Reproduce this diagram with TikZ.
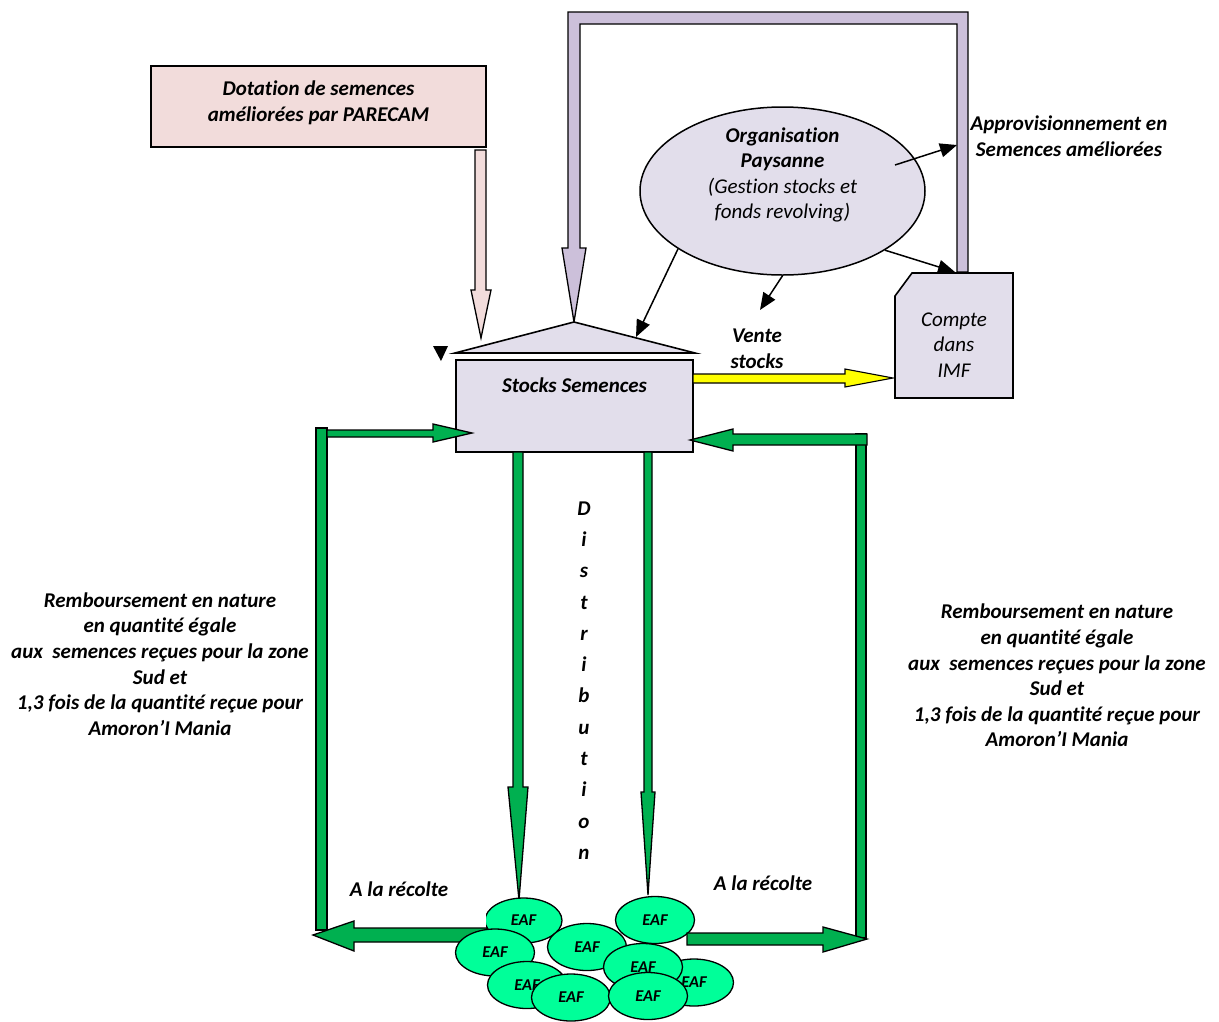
\documentclass[tikz,border=0pt]{standalone}
\usepackage{fontspec}
\setmainfont{Carlito}[Ligatures=CommonOff]
\usetikzlibrary{arrows.meta,shapes.geometric}
\definecolor{pinkbox}{HTML}{F2DCDB}
\definecolor{lavbox}{HTML}{E2DEEB}
\definecolor{purplearrow}{HTML}{CCC0DA}
\definecolor{greenarrow}{HTML}{00B050}
\definecolor{eafgreen}{HTML}{00FF99}
\definecolor{yellowarrow}{HTML}{FFFF00}

\begin{document}
\begin{tikzpicture}[x=1pt,y=-1pt,
  txt/.style={font=\fontsize{21}{25.6}\selectfont\bfseries\itshape, align=center, inner sep=0pt},
  txtit/.style={font=\fontsize{21}{25.6}\selectfont\itshape, align=center, inner sep=0pt},
  box/.style={draw=black, line width=1.6pt, rectangle, inner sep=0pt},
  blockarrow/.style={draw=black, line width=1.3pt, line join=miter},
  thinarrow/.style={draw=black, line width=1.5pt, -{Triangle[length=17pt,width=14pt]}},
  eaf/.style={ellipse, draw=black, line width=1.3pt, fill=eafgreen, inner sep=0pt,
              minimum width=79, minimum height=47,
              font=\fontsize{16.5}{19}\selectfont\bfseries\itshape},
]
\useasboundingbox (0,0) rectangle (1219,1021);

% ---- donor box and its arrow
\node[box, fill=pinkbox, minimum width=335, minimum height=81] (dot) at (318.5,106.5) {};
\node[txt] (dottxt) at (318.5,103) {Dotation de semences\\améliorées par PARECAM};
\draw[blockarrow, fill=pinkbox] (475,150) -- (486,150) -- (486,290) -- (491,290)
  -- (481,338) -- (471,290) -- (475,290) -- cycle;

% ---- supply loop (inverted U)
\draw[blockarrow, fill=purplearrow] (568,248) -- (568,12) -- (968,12) -- (968,272)
  -- (957,272) -- (957,24) -- (580,24) -- (580,248) -- (586,248) -- (574,322)
  -- (562,248) -- cycle;

% ---- farmers' organisation
\node[ellipse, draw=black, line width=1.5pt, fill=lavbox, minimum width=285, minimum height=168] (op) at (782.5,191) {};
\node[txtit] (optxt) at (782.5,175) {\textbf{Organisation}\\\textbf{Paysanne}\\(Gestion stocks et\\fonds revolving)};
\node[txt, align=center] (appro) at (1069,136.5) {Approvisionnement en\\Semences améliorées};

% ---- account at the MFI
\draw[box, fill=lavbox] (912,273) -- (1013,273) -- (1013,398) -- (895,398) -- (895,296) -- cycle;
\node[inner sep=0pt, minimum width=118, minimum height=125] (compte) at (954,335.5) {};
\node[txtit] (comptetxt) at (954,345) {Compte\\dans\\IMF};

% ---- seed stock
\draw[box, fill=lavbox] (455,353) -- (574,322) -- (695,353) -- cycle;
\node[box, fill=lavbox, minimum width=237, minimum height=92] (stock) at (574.5,406) {};
\node[txt] (stocktxt) at (574.5,385) {Stocks Semences};
\fill[black] (433,346) -- (448,346) -- (441,361) -- cycle;

% ---- thin connectors from the organisation
\coordinate (apprTip) at (957,145);
\coordinate (apprStart) at (895,165);
\coordinate (roofPt) at (636,337);
\coordinate (venteTip) at (760,310);
\coordinate (comptePt) at (955,272);
\draw[thinarrow] (apprStart) -- (apprTip);
\draw[thinarrow] (op.209) -- (roofPt);
\draw[thinarrow] (op.south) -- (venteTip);
\draw[thinarrow] (op.330) -- (comptePt);

% ---- sale of stocks
\node[txt] (vente) at (757,348.5) {Vente\\stocks};
\draw[blockarrow, line width=1.1pt, fill=yellowarrow] (693,374) -- (845,374) -- (845,369)
  -- (893,378) -- (845,387) -- (845,383) -- (693,383) -- cycle;

% ---- distribution to the farms
\draw[blockarrow, fill=greenarrow] (513,452) -- (523,452) -- (523,787) -- (528,787)
  -- (519,900) -- (508,787) -- (513,787) -- cycle;
\draw[blockarrow, fill=greenarrow] (644,452) -- (652,452) -- (652,792) -- (655,792)
  -- (648,895) -- (641,792) -- (644,792) -- cycle;
\node[txt, font=\fontsize{21}{31.3}\selectfont\bfseries\itshape] (distr) at (584,680.5)
  {D\\i\\s\\t\\r\\i\\b\\u\\t\\i\\o\\n};

% ---- repayment loops
\draw[blockarrow, fill=greenarrow] (316,428) rectangle (327,930);
\draw[blockarrow, fill=greenarrow] (327,430) -- (433,430) -- (433,424) -- (472,433)
  -- (433,442) -- (433,437) -- (327,437) -- cycle;
\draw[blockarrow, fill=greenarrow] (856,434) rectangle (866,938);
\draw[blockarrow, fill=greenarrow] (867,434) -- (733,434) -- (733,429) -- (690,440)
  -- (733,451) -- (733,445) -- (867,445) -- cycle;

\node[txt] (rembL) at (160,664) {Remboursement en nature\\en quantité égale\\aux\ \ semences reçues pour la zone\\Sud et\\1,3 fois de la quantité reçue pour\\Amoron’I Mania};
\node[txt] (rembR) at (1057,675.5) {Remboursement en nature\\en quantité égale\\aux\ \ semences reçues pour la zone\\Sud et\\1,3 fois de la quantité reçue pour\\Amoron’I Mania};
\node[txt] (recL) at (399,889) {A la récolte};
\node[txt] (recR) at (763,883) {A la récolte};

% ---- family farms
\node[eaf, minimum width=77, minimum height=45] (e1) at (523.5,920.5) {EAF};
\fill[white] (470,895) rectangle (486,927);
\draw[blockarrow, fill=greenarrow] (487,928) -- (354,928) -- (354,921) -- (313,935)
  -- (354,951) -- (354,942) -- (487,942) -- cycle;
\node[eaf] (e2) at (495,952.5) {EAF};
\node[eaf] (e3) at (587,947) {EAF};
\node[eaf] (e4) at (655,920) {EAF};
\draw[blockarrow, fill=greenarrow] (687,933) -- (823,933) -- (823,927) -- (867,939)
  -- (823,952) -- (823,945) -- (687,945) -- cycle;
\node[eaf] (e6) at (694,982.5) {EAF};
\node[eaf] (e5) at (643,967) {EAF};
\node[eaf] (e7) at (527,985) {EAF};
\node[eaf] (e8) at (571,997.5) {EAF};
\node[eaf] (e9) at (648,996) {EAF};
\end{tikzpicture}
\end{document}
